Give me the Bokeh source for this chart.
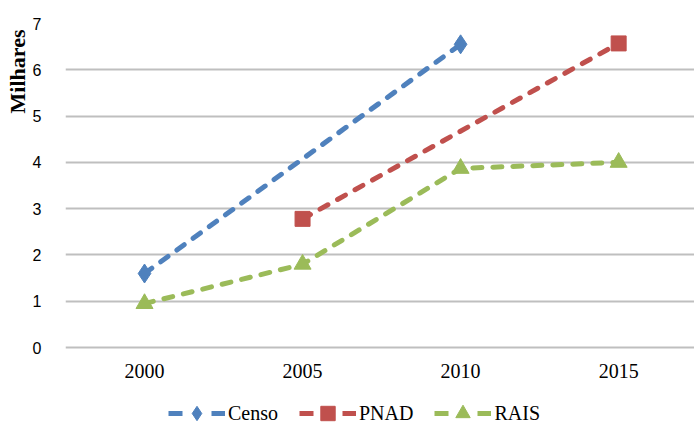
import math
from bokeh.plotting import figure
from bokeh.models import Legend, LegendItem, Title, Range1d, FixedTicker, ColumnDataSource
from bokeh.core.properties import value
from bokeh.embed import file_html
from bokeh.resources import INLINE

years = ["2000", "2005", "2010", "2015"]
censo = [1.6, None, 6.55, None]
pnad = [None, 2.78, None, 6.57]
rais = [0.95, 1.8, 3.87, 4.0]
y_ticks = [0, 1, 2, 3, 4, 5, 6, 7]

series = [
    ("Censo", censo, "#4F81BD", "diamond", 19),
    ("PNAD", pnad, "#C0504D", "square", 15),
    ("RAIS", rais, "#9BBB59", "triangle", 17),
]

# frame extends below 0 to leave room for the category labels and legend
p = figure(width=694, height=423, output_backend="svg", toolbar_location=None,
           x_range=Range1d(-0.5, 3.48), y_range=Range1d(-1.64, 7),
           min_border_left=65, min_border_right=0, min_border_top=23, min_border_bottom=0)
p.outline_line_color = None
p.background_fill_color = "white"
# range used only by the legend sample lines (keeps them out of view)
p.extra_y_ranges = {"legend_only": Range1d(1000, 1001)}

p.xgrid.grid_line_color = None
p.ygrid.grid_line_color = "#BFBFBF"
p.ygrid.grid_line_width = 2
p.ygrid.ticker = FixedTicker(ticks=y_ticks)

p.yaxis.ticker = FixedTicker(ticks=y_ticks)
p.yaxis.axis_line_color = None
p.yaxis.major_tick_line_color = None
p.yaxis.minor_tick_line_color = None
p.yaxis.major_label_standoff = 18
p.yaxis.major_label_text_font = "Liberation Sans"
p.yaxis.major_label_text_font_size = "16px"
p.yaxis.major_label_text_color = "#000000"

p.xaxis.visible = False

# category labels
src = ColumnDataSource(dict(x=list(range(len(years))), y=[-0.5] * len(years), t=years))
p.text(x="x", y="y", text="t", source=src, text_align="center", text_baseline="middle",
       text_font=value("Liberation Serif"), text_font_size="20px", text_color="#000000")

items = []
for name, vals, color, marker, size in series:
    xs = [i for i, v in enumerate(vals) if v is not None]
    ys = [v for v in vals if v is not None]
    p.line(xs, ys, line_color=color, line_width=5, line_dash="9 11", line_cap="round")
    sc = p.scatter(xs, ys, marker=marker, size=size, fill_color=color, line_color=color, line_width=1)
    # legend-only line sample (dash - marker - dash), drawn on an out-of-view range
    lg = p.line(xs, ys, y_range_name="legend_only", line_color=color, line_width=5,
                line_dash="14 29")
    items.append(LegendItem(label=name, renderers=[lg, sc]))

legend = Legend(items=items, orientation="horizontal", location=(103, -8),
                glyph_width=57, glyph_height=36, label_standoff=3, spacing=21,
                padding=0, margin=0, border_line_color=None, background_fill_alpha=0,
                label_text_font="Liberation Serif", label_text_font_size="20px",
                label_text_color="#000000")
p.add_layout(legend, "center")

ylab = Title(text="Milhares", align="right", offset=6, standoff=0,
             text_font="Liberation Serif", text_font_style="bold", text_font_size="22px",
             text_color="#000000")
p.add_layout(ylab, "left")

open("out.html", "w").write(file_html(p, INLINE))
